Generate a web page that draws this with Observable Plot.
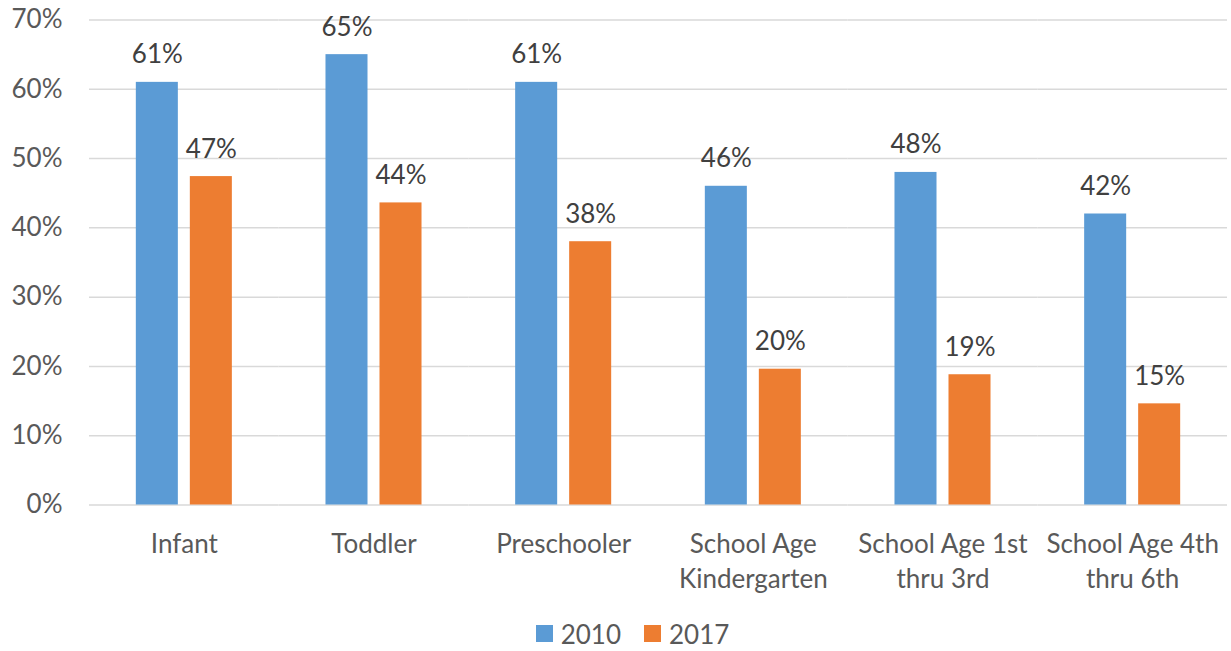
<!DOCTYPE html>
<html>
<head>
<meta charset="utf-8">
<script src="https://cdn.jsdelivr.net/npm/d3@7"></script>
<script src="https://cdn.jsdelivr.net/npm/@observablehq/plot@0.6"></script>
<style>
  html, body { margin: 0; padding: 0; background: #fff; overflow: hidden; }
  #chart { width: 1231px; }
  .legend { display: flex; align-items: center; justify-content: center; height: 27px; padding-top: 8px; padding-left: 34px;
            font-family: Lato, "Open Sans", sans-serif; font-size: 26px; line-height: 26px; color: #595959; }
  .legend .sw { display: inline-block; width: 17px; height: 17px; margin-right: 8px; }
  .legend .item { display: flex; align-items: center; margin: 0 11.5px; }
</style>
</head>
<body>
<div id="chart"></div>
<script>
const categories = ["Infant", "Toddler", "Preschooler", "School Age\nKindergarten", "School Age 1st\nthru 3rd", "School Age 4th\nthru 6th"];
const series = ["2010", "2017"];
const values2010 = [61, 65, 61, 46, 48, 42];
const values2017 = [47.4, 43.6, 38, 19.6, 18.8, 14.6];
const yTicks = [0, 10, 20, 30, 40, 50, 60, 70];
const colors = ["#5B9BD5", "#ED7D31"];

const data = [];
categories.forEach((c, i) => {
  data.push({category: c, series: series[0], value: values2010[i]});
  data.push({category: c, series: series[1], value: values2017[i]});
});

const plot = Plot.plot({
  width: 1231,
  height: 612,
  marginLeft: 89,
  marginRight: 4,
  marginTop: 19.5,
  marginBottom: 107.5,
  style: {fontFamily: "Lato, 'Open Sans', sans-serif", fontSize: "26px", background: "#fff"},
  fx: {domain: categories, padding: 0, round: false, axis: null, label: null},
  x: {domain: series, paddingInner: 0.222, paddingOuter: 0.867, round: false, axis: null},
  y: {domain: [0, 70], axis: null},
  color: {domain: series, range: colors},
  marks: [
    Plot.gridY(yTicks, {stroke: "#D9D9D9", strokeOpacity: 1, strokeWidth: 1.5}),
    Plot.axisY({ticks: yTicks, tickFormat: d => d + "%", tickSize: 0, tickPadding: 27, fill: "#595959", fontSize: 26, label: null}),
    Plot.barY(data, {fx: "category", x: "series", y: "value", fill: "series"}),
    Plot.text(data, {fx: "category", x: "series", y: "value", text: d => Math.round(d.value) + "%", dy: -19, lineAnchor: "bottom", fill: "#404040", fontSize: 26}),
    Plot.axisFx({anchor: "bottom", tickSize: 0, tickPadding: 23, fill: "#595959", fontSize: 26, lineHeight: 1.35, label: null})
  ]
});
document.getElementById("chart").appendChild(plot);

const legend = document.createElement("div");
legend.className = "legend";
series.forEach((s, i) => {
  const item = document.createElement("div");
  item.className = "item";
  const sw = document.createElement("span");
  sw.className = "sw";
  sw.style.background = colors[i];
  item.appendChild(sw);
  item.appendChild(document.createTextNode(s));
  legend.appendChild(item);
});
document.getElementById("chart").appendChild(legend);
</script>
</body>
</html>
